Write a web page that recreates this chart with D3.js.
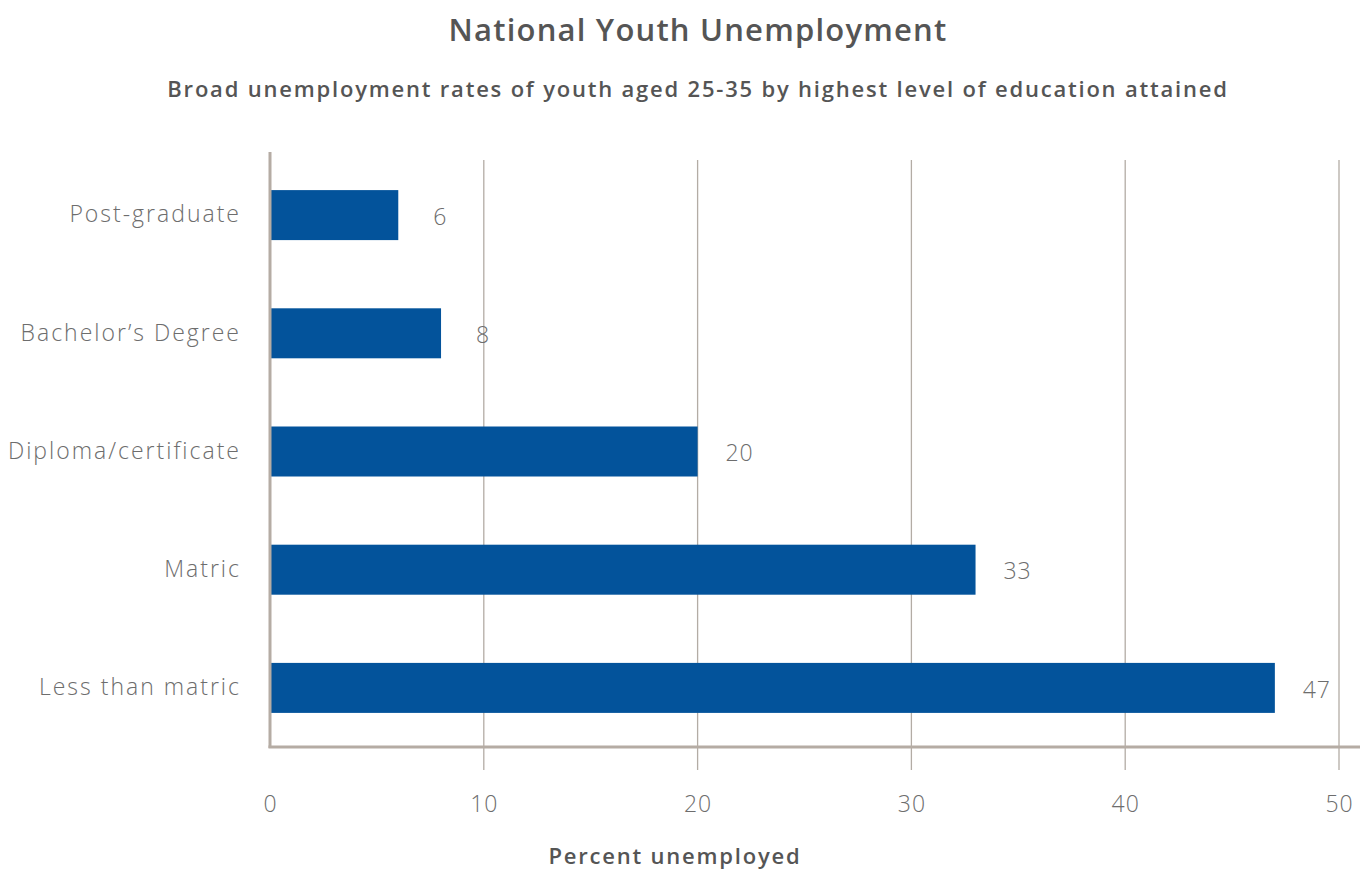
<!DOCTYPE html>
<html><head><meta charset="utf-8">
<script src="https://cdn.jsdelivr.net/npm/d3@7"></script>
<style>body{margin:0;background:#fff;}svg{display:block;font-family:"Open Sans",sans-serif;}</style>
</head><body><svg id="c" width="1365" height="869"></svg>
<script>
const categories = ["Post-graduate","Bachelor’s Degree","Diploma/certificate","Matric","Less than matric"];
const values = [6, 8, 20, 33, 47];
const xTicks = [0,10,20,30,40,50];
const title = "National Youth Unemployment";
const subtitle = "Broad unemployment rates of youth aged 25-35 by highest level of education attained";
const xTitle = "Percent unemployed";

const svg = d3.select("#c");
const x = d3.scaleLinear().domain([0,50]).range([270,1339]);
const y = d3.scaleBand().domain(categories).range([156,747]).paddingInner(0.577).paddingOuter(0.2885);

// gridlines + ticks
svg.append("g").selectAll("line").data(xTicks.slice(1)).join("line")
  .attr("x1",d=>x(d)).attr("x2",d=>x(d)).attr("y1",160).attr("y2",770)
  .attr("stroke","#b3aca5").attr("stroke-width",1.3);

// bars
svg.append("g").selectAll("rect").data(values).join("rect")
  .attr("x",x(0)).attr("y",(d,i)=>y(categories[i]))
  .attr("width",d=>x(d)-x(0)).attr("height",y.bandwidth())
  .attr("fill","#03539b");

// axes lines
svg.append("line").attr("x1",270).attr("x2",270).attr("y1",152).attr("y2",748)
  .attr("stroke","#b5aca4").attr("stroke-width",3);
svg.append("line").attr("x1",268.5).attr("x2",1360).attr("y1",747).attr("y2",747)
  .attr("stroke","#b5aca4").attr("stroke-width",3);

const lightStyle = (sel, ls) => sel.attr("font-size",23).attr("fill","#6d6d6d").attr("font-weight",300)
  .attr("font-family","'Open Sans',sans-serif").attr("letter-spacing",ls);

// x axis via d3
const xAxis = svg.append("g").attr("transform","translate(0,747)")
  .call(d3.axisBottom(x).tickValues(xTicks).tickSize(0).tickPadding(49));
xAxis.select(".domain").remove();
xAxis.selectAll("text").call(lightStyle,"1px");

// y axis
const yAxis = svg.append("g").attr("transform","translate(270,0)")
  .call(d3.axisLeft(y).tickSize(0).tickPadding(29));
yAxis.select(".domain").remove();
yAxis.selectAll("text").call(lightStyle,"2px");

// value labels
svg.append("g").selectAll("text").data(values).join("text")
  .attr("x",d=>x(d)+42).attr("y",(d,i)=>y(categories[i])+y.bandwidth()/2)
  .attr("dy","0.42em").attr("text-anchor","middle")
  .call(lightStyle,"1px")
  .text(d=>d);

svg.append("text").attr("x",698).attr("y",41).attr("text-anchor","middle")
  .attr("font-size",31).attr("fill","#555").attr("font-weight",600).attr("letter-spacing","1.2px").text(title);
svg.append("text").attr("x",698).attr("y",97).attr("text-anchor","middle")
  .attr("font-size",22).attr("fill","#555").attr("font-weight",600).attr("letter-spacing","1.8px").text(subtitle);
svg.append("text").attr("x",675).attr("y",864).attr("text-anchor","middle")
  .attr("font-size",22).attr("fill","#555").attr("font-weight",600).attr("letter-spacing","1.8px").text(xTitle);
</script></body></html>
